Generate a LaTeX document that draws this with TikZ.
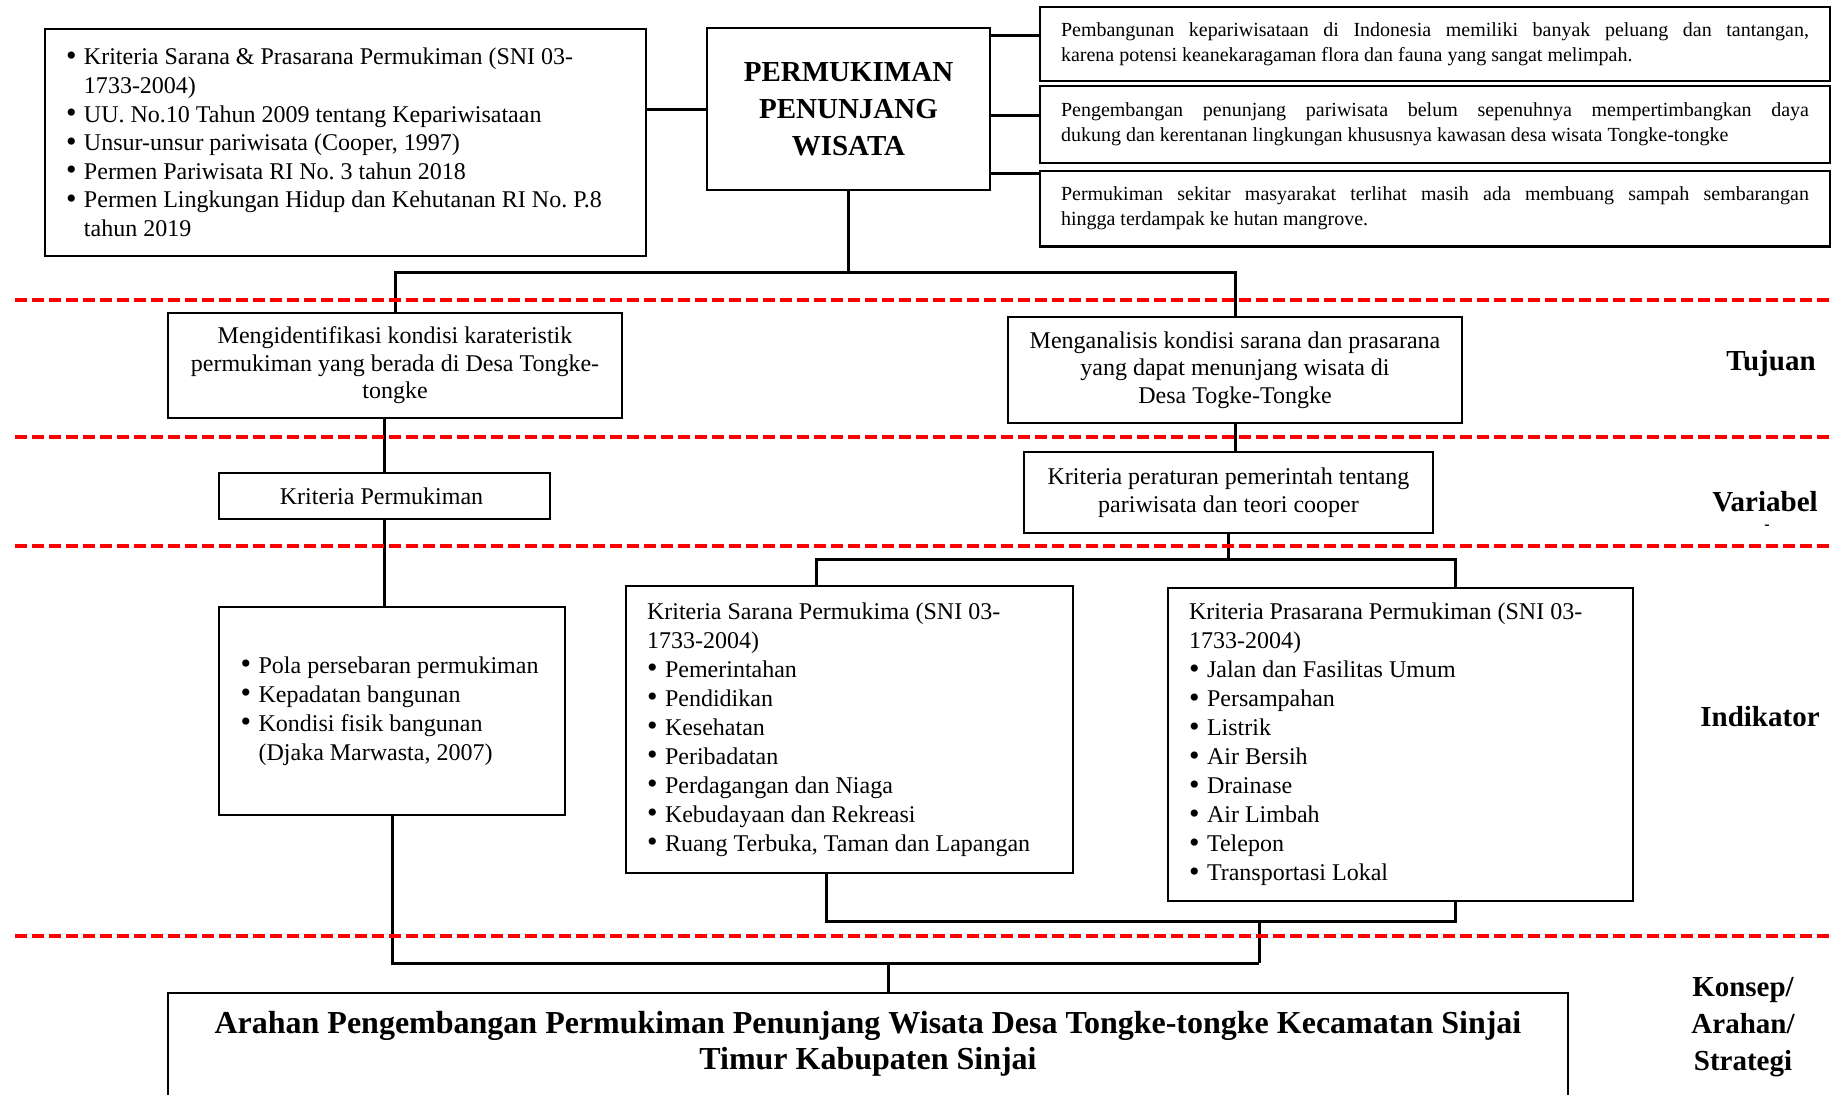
\documentclass[tikz,border=0pt]{standalone}
\usepackage{fontspec}
\setmainfont{Liberation Serif}
\usetikzlibrary{positioning}

\newcommand{\bl}{\makebox[9pt][l]{\raisebox{-0.3pt}{\fontsize{15}{14}\selectfont\textbullet}}}
\newcommand{\hang}{\hspace*{9pt}}

\begin{document}
\frenchspacing
\begin{tikzpicture}[
    x=0.5pt, y=-0.5pt,
    box/.style={
        rectangle,
        draw,
        line width=1.1pt,
        align=center,
        inner sep=2pt
    },
    listbox/.style={
        box,
        align=flush left,
        inner xsep=10.5pt,
        font=\fontsize{12}{14.5}\selectfont
    },
    notebox/.style={
        box,
        align=justify,
        text width=374pt,
        inner xsep=10.5pt,
        font=\fontsize{10}{12.5}\selectfont
    },
    sidelabel/.style={
        align=center,
        font=\fontsize{14.5}{18.5}\selectfont\bfseries
    },
    link/.style={
        line width=1.5pt
    },
    sepline/.style={
        red,
        line width=1.6pt,
        dash pattern=on 6pt off 2.5pt
    }
]

\useasboundingbox (0,0) rectangle (1841,1094);
\clip (0,0) rectangle (1841,1094);

% ------------------------------------------------
% Background and core topic
% ------------------------------------------------

\node[listbox, text width=279.5pt, minimum height=113.5pt,
      font=\fontsize{12}{14.3}\selectfont] (refs) at (345.5,142.5) {
    \bl Kriteria Sarana \& Prasarana Permukiman (SNI 03-\\
    \hang 1733-2004)\\
    \bl UU. No.10 Tahun 2009 tentang Kepariwisataan\\
    \bl Unsur-unsur pariwisata (Cooper, 1997)\\
    \bl Permen Pariwisata RI No. 3 tahun 2018\\
    \bl Permen Lingkungan Hidup dan Kehutanan RI No. P.8\\
    \hang tahun 2019
};

\node[box, minimum width=141.5pt, minimum height=81pt,
      font=\fontsize{14.5}{18.5}\selectfont\bfseries] (core) at (848.5,109) {
    PERMUKIMAN\\
    PENUNJANG\\
    WISATA
};

\node[notebox, minimum height=37pt] (noteA) at (1435,44) {
    Pembangunan kepariwisataan di Indonesia memiliki banyak peluang dan tantangan,\linebreak
    karena potensi keanekaragaman flora dan fauna yang sangat melimpah.
};

\node[notebox, minimum height=38.5pt, below=1.3pt of noteA] (noteB) {
    Pengembangan penunjang pariwisata belum sepenuhnya mempertimbangkan daya\linebreak
    dukung dan kerentanan lingkungan khususnya kawasan desa wisata Tongke-tongke
};

\node[notebox, minimum height=37.8pt, below=2.9pt of noteB] (noteC) {
    Permukiman sekitar masyarakat terlihat masih ada membuang sampah sembarangan\linebreak
    hingga terdampak ke hutan mangrove.
};

% ------------------------------------------------
% Tujuan
% ------------------------------------------------

\node[box, minimum width=227pt, minimum height=52.5pt,
      font=\fontsize{12}{13.8}\selectfont] (aimL) at (395,365.5) {
    Mengidentifikasi kondisi karateristik\\
    permukiman yang berada di Desa Tongke-\\
    tongke
};

\node[box, minimum width=227pt, minimum height=53pt,
      font=\fontsize{12}{13.8}\selectfont] (aimR) at (1235,370) {
    Menganalisis kondisi sarana dan prasarana\\
    yang dapat menunjang wisata di\\
    Desa Togke-Tongke
};

% ------------------------------------------------
% Variabel
% ------------------------------------------------

\node[box, minimum width=165.5pt, minimum height=23pt,
      font=\fontsize{12}{14}\selectfont] (varL) at (384.5,496) {
    Kriteria Permukiman
};

\node[box, minimum width=204.5pt, minimum height=40.5pt,
      font=\fontsize{12}{14.2}\selectfont] (varR) at (1228.5,492.5) {
    Kriteria peraturan pemerintah tentang\\
    pariwisata dan teori cooper
};

% ------------------------------------------------
% Indikator
% ------------------------------------------------

\node[listbox, text width=151.4pt, inner xsep=10.8pt, minimum height=104pt] (indL) at (392,711) {
    \bl Pola persebaran permukiman\\
    \bl Kepadatan bangunan\\
    \bl Kondisi fisik bangunan\\
    \hang (Djaka Marwasta, 2007)
};

\node[listbox, text width=202.5pt, minimum height=143.5pt] (sarana) at (849.5,729.5) {
    Kriteria Sarana Permukima (SNI 03-\\
    1733-2004)\\
    \bl Pemerintahan\\
    \bl Pendidikan\\
    \bl Kesehatan\\
    \bl Peribadatan\\
    \bl Perdagangan dan Niaga\\
    \bl Kebudayaan dan Rekreasi\\
    \bl Ruang Terbuka, Taman dan Lapangan
};

\node[listbox, text width=211.5pt, minimum height=156.5pt] (prasarana) at (1400.5,744.5) {
    Kriteria Prasarana Permukiman (SNI 03-\\
    1733-2004)\\
    \bl Jalan dan Fasilitas Umum\\
    \bl Persampahan\\
    \bl Listrik\\
    \bl Air Bersih\\
    \bl Drainase\\
    \bl Air Limbah\\
    \bl Telepon\\
    \bl Transportasi Lokal
};

% ------------------------------------------------
% Konsep / arahan
% ------------------------------------------------

\node[box, anchor=north, inner xsep=0pt, inner ysep=9pt,
      font=\fontsize{16}{18.2}\selectfont\bfseries] (final) at (868,992) {%
    \parbox[t][60pt][t]{700pt}{\centering
    Arahan Pengembangan Permukiman Penunjang Wisata Desa Tongke-tongke Kecamatan Sinjai\\
    Timur Kabupaten Sinjai}%
};

% ------------------------------------------------
% Row labels
% ------------------------------------------------

\node[sidelabel] (tujuan) at (1771,364) {Tujuan};
\node[sidelabel] (variabel) at (1765,502) {Variabel};
\node[font=\fontsize{8}{8}\selectfont\bfseries] (stray) at (1767,527) {-};
\node[sidelabel] (indikator) at (1760,717) {Indikator};
\node[sidelabel] (konsep) at (1743,1027) {Konsep/\\Arahan/\\Strategi};

% ------------------------------------------------
% Connectors
% ------------------------------------------------

\coordinate (topbus) at (848.5,272);
\coordinate (midbus) at (1236,559);
\coordinate (lowbus) at (1259,921);
\coordinate (basebus) at (888,963);

\draw[link] (core.west) -- (core.west -| refs.east);
\draw[link] ([yshift=4.5pt]noteA.west) -- ([yshift=4.5pt]noteA.west -| core.east);
\draw[link] ([yshift=4.25pt]noteB.west) -- ([yshift=4.25pt]noteB.west -| core.east);
\draw[link] ([yshift=17.5pt]noteC.west) -- ([yshift=17.5pt]noteC.west -| core.east);

\draw[link] (core.south) -- (topbus);
\draw[link] (aimL.north) -- (aimL.north |- topbus) -- (aimR.north |- topbus) -- (aimR.north);

\draw[link] (aimL.south -| varL.north) -- (varL.north);
\draw[link] (varL.south) -- (varL.south |- indL.north);
\draw[link] (aimR.south) -- (aimR.south |- varR.north);
\draw[link] (varR.south) -- (varR.south |- midbus);
\draw[link] ([xshift=-16.75pt]sarana.north) |- (midbus) -| ([xshift=27.25pt]prasarana.north);

\draw[link] ([xshift=-11.75pt]sarana.south) |- (lowbus) -| ([xshift=27.25pt]prasarana.south);
\draw[link] (lowbus) -- (lowbus |- basebus);
\draw[link] (indL.south) |- (lowbus |- basebus);
\draw[link] (basebus) -- (basebus |- final.north);

% ------------------------------------------------
% Row separators
% ------------------------------------------------

\foreach \y in {300,437,546,936}
    \draw[sepline] (15,\y) -- (1832,\y);

\end{tikzpicture}
\end{document}
